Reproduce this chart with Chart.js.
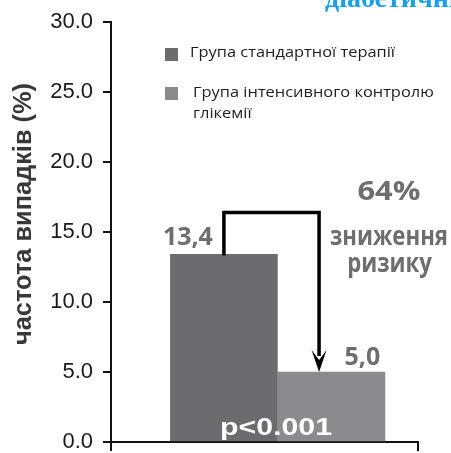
<!DOCTYPE html>
<html><head><meta charset="utf-8">
<script src="https://cdn.jsdelivr.net/npm/chart.js@4/dist/chart.umd.min.js"></script>
<style>html,body{margin:0;padding:0;background:#fff;overflow:hidden}</style>
</head><body>
<canvas id="c" width="451" height="453" style="display:block;width:451px;height:453px"></canvas>
<script>
// ---- data ----
const categories = ['Група стандартної терапії', 'Група інтенсивного контролю глікемії'];
const legendLines = [['Група стандартної терапії'], ['Група інтенсивного контролю', 'глікемії']];
const values = [13.4, 5.0];
const yTicks = [0, 5, 10, 15, 20, 25, 30];
const yTitle = 'частота випадків (%)';
const reductionLines = ['64%', 'зниження', 'ризику'];
const pText = 'p<0.001';
const headerText = 'діабетичних';

const barColors = ['#6c6c6e', '#8b8b8d'];
const fmtComma = v => v.toFixed(1).replace('.', ',');

function drawFit(ctx, s, x, y, font, color, align, sx, rot) {
  ctx.save();
  ctx.translate(x, y);
  if (rot) { ctx.scale(sx.h, 1); ctx.rotate(rot); ctx.scale(sx.w, 1); }
  else ctx.scale(sx, 1);
  ctx.font = font; ctx.fillStyle = color; ctx.textAlign = align; ctx.textBaseline = 'alphabetic';
  ctx.fillText(s, 0, 0);
  ctx.restore();
}
function fitScale(ctx, s, font, w) { ctx.save(); ctx.font = font; const m = ctx.measureText(s).width; ctx.restore(); return w / m; }

const annot = {
  id: 'annot',
  afterDraw(chart) {
    const ctx = chart.ctx;
    const xs = chart.scales.x, ys = chart.scales.y;
    const b0 = chart.getDatasetMeta(0).data[0], b1 = chart.getDatasetMeta(1).data[0];

    // header (cropped)
    ctx.save();
    ctx.font = 'bold 28px "Liberation Serif"'; ctx.fillStyle = '#1a9fe6';
    ctx.textAlign = 'left'; ctx.textBaseline = 'alphabetic';
    ctx.fillText(headerText, 325, 7);
    ctx.restore();

    // y title
    const tf = 'bold 22px "Liberation Sans"';
    const tl = fitScale(ctx, yTitle, tf, 262);
    drawFit(ctx, yTitle, 31, 214, tf, '#383838', 'center', {h: 1.2, w: tl}, -Math.PI / 2);

    // legend
    const lf = '15px "Open Sans"';
    const ls = fitScale(ctx, legendLines[0][0], lf, 205);
    const sq = [[165, 48], [165, 87]];
    const tx = [[190, 57], [193, 97]];
    legendLines.forEach((lines, i) => {
      ctx.fillStyle = barColors[i];
      ctx.fillRect(sq[i][0], sq[i][1], 13, 13);
      lines.forEach((ln, j) => drawFit(ctx, ln, tx[i][0], tx[i][1] + j * 21, lf, '#1e1e1e', 'left', ls));
    });

    // value labels
    const vf = 'bold 25px "Open Sans"';
    const vs = fitScale(ctx, fmtComma(values[0]), vf, 50);
    drawFit(ctx, fmtComma(values[0]), b0.x - 36, b0.y - 9, vf, '#6e6e6e', 'center', vs);
    drawFit(ctx, fmtComma(values[1]), b1.x + 31, b1.y - 7, vf, '#6e6e6e', 'center', vs);

    // bracket with arrow
    const yTop = ys.getPixelForValue(16.4);
    const xR = xs.getPixelForValue(0.885);
    ctx.save();
    ctx.strokeStyle = '#000'; ctx.lineWidth = 3.5; ctx.lineJoin = 'miter';
    ctx.beginPath();
    ctx.moveTo(b0.x, b0.y + 1);
    ctx.lineTo(b0.x, yTop);
    ctx.lineTo(xR, yTop);
    ctx.lineTo(xR, b1.y - 16);
    ctx.stroke();
    ctx.fillStyle = '#000';
    ctx.beginPath();
    ctx.moveTo(xR - 7.5, b1.y - 22);
    ctx.lineTo(xR, b1.y - 12);
    ctx.lineTo(xR + 7.5, b1.y - 22);
    ctx.lineTo(xR, b1.y);
    ctx.closePath();
    ctx.fill();
    ctx.restore();

    // reduction text
    const rf0 = 'bold 27px "Open Sans"';
    const rs0 = fitScale(ctx, reductionLines[0], rf0, 63);
    drawFit(ctx, reductionLines[0], 389, 200, rf0, '#6e6e6e', 'center', rs0);
    const rf = 'bold 26px "Open Sans"';
    const rs = fitScale(ctx, reductionLines[1], rf, 118);
    drawFit(ctx, reductionLines[1], 389, 245, rf, '#6e6e6e', 'center', rs);
    drawFit(ctx, reductionLines[2], 389.5, 272, rf, '#6e6e6e', 'center', rs);

    // p value
    const pf = 'bold 24px "Liberation Sans"';
    const ps = fitScale(ctx, pText, pf, 112);
    drawFit(ctx, pText, 220, 435, pf, '#ffffff', 'left', ps);
  }
};

new Chart(document.getElementById('c'), {
  type: 'bar',
  data: {
    datasets: categories.map((c, i) => ({
      label: c,
      data: [{x: i, y: values[i]}],
      backgroundColor: barColors[i],
      barThickness: 107,
      grouped: false
    }))
  },
  options: {
    responsive: false,
    devicePixelRatio: 1,
    animation: false,
    layout: {padding: {top: 22, right: 33, bottom: 2, left: 0}},
    plugins: {legend: {display: false}, tooltip: {enabled: false}, title: {display: false}},
    scales: {
      x: {
        type: 'linear', min: -1.05, max: 1.805, z: 1, offset: false,
        afterBuildTicks: s => { s.ticks = [{value: s.min}, {value: s.max}]; },
        ticks: {display: false},
        grid: {display: true, offset: false, drawOnChartArea: false, drawTicks: true, tickLength: 9, color: '#111', lineWidth: 2},
        border: {display: true, color: '#111', width: 2}
      },
      y: {
        min: 0, max: 30,
        afterBuildTicks: s => { s.ticks = yTicks.map(v => ({value: v})); },
        afterFit: s => { s.width = 111; s.paddingTop = 0; s.paddingBottom = 0; },
        ticks: {callback: v => Number(v).toFixed(1), color: '#1a1a1a', padding: 10,
                font: {family: '"Liberation Sans"', size: 22, lineHeight: 1}},
        grid: {display: true, drawOnChartArea: false, drawTicks: true, tickLength: 8, color: '#111', lineWidth: 2},
        border: {display: true, color: '#111', width: 2}
      }
    }
  },
  plugins: [annot]
});
</script>
</body></html>
